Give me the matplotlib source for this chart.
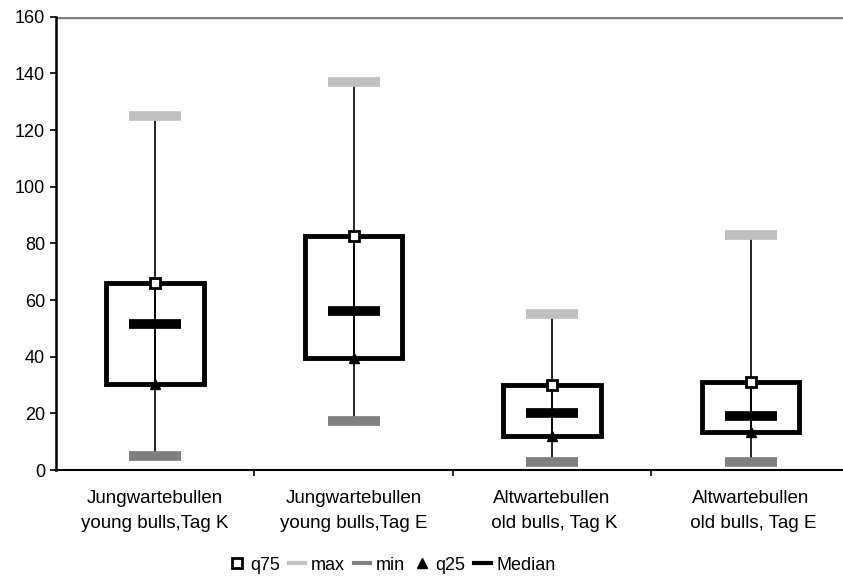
import numpy as np
import matplotlib.pyplot as plt
from matplotlib.lines import Line2D
from matplotlib.patches import Rectangle

plt.rcParams['font.family'] = ['Liberation Sans', 'DejaVu Sans']

labels = ['Jungwartebullen\nyoung bulls,Tag K', 'Jungwartebullen\nyoung bulls,Tag E',
          'Altwartebullen\n old bulls, Tag K', 'Altwartebullen\n old bulls, Tag E']
q_max = [125, 137, 55, 83]
q75 = [66, 82.5, 30, 31]
median = [51.5, 56, 20, 19]
q25 = [30.5, 39.5, 12, 13.5]
q_min = [5, 17.5, 3, 3]

x = np.arange(len(labels))

fig = plt.figure(figsize=(8.43, 5.79), dpi=100)
ax = fig.add_axes([0.066, 0.188, 0.934, 0.783])

for i in x:
    # whisker
    ax.plot([i, i], [q_min[i], q_max[i]], color='black', lw=1.2, zorder=2)
    # box
    ax.add_patch(Rectangle((i - 0.245, q25[i]), 0.49, q75[i] - q25[i],
                           facecolor='white', edgecolor='black', lw=3.5, zorder=1))
    ax.plot([i, i], [q25[i], q75[i]], color='black', lw=1.2, zorder=2)

ax.plot(x, q_max, ls='none', marker='_', ms=38, mew=7, color='#c0c0c0', zorder=3)
ax.plot(x, q_min, ls='none', marker='_', ms=38, mew=7, color='#808080', zorder=3)
ax.plot(x, median, ls='none', marker='_', ms=38, mew=7, color='black', zorder=3)
ax.plot(x, q75, ls='none', marker='s', ms=6.5, mew=2, mfc='white', mec='black', zorder=4)
ax.plot(x, q25, ls='none', marker='^', ms=6.5, color='black', zorder=4)

ax.set_ylim(0, 160)
ax.set_yticks(range(0, 161, 20))
ax.set_xlim(-0.5, 3.465)
ax.set_xticks([0.5, 1.5, 2.5], minor=False)
ax.set_xticklabels([])
ax.tick_params(axis='x', direction='out', length=4, width=1.2)
ax.tick_params(axis='y', direction='out', length=4, width=1.2, labelsize=13)
for i, lab in enumerate(labels):
    ax.text(i, -7, lab, ha='center', va='top', fontsize=13.5, linespacing=1.6)

ax.axhline(160, color='#808080', lw=2.5, zorder=0)
ax.spines['top'].set_visible(False)
ax.spines['right'].set_visible(False)
ax.spines['left'].set_linewidth(1.8)
ax.spines['bottom'].set_linewidth(1.5)

handles = [
    Line2D([], [], ls='none', marker='s', ms=7, mew=2, mfc='white', mec='black'),
    Line2D([], [], color='#c0c0c0', lw=3),
    Line2D([], [], color='#808080', lw=3),
    Line2D([], [], ls='none', marker='^', ms=7, color='black'),
    Line2D([], [], color='black', lw=3),
]
fig.legend(handles, ['q75', 'max', 'min', 'q25', 'Median'], loc='center',
           bbox_to_anchor=(0.465, 0.024), ncol=5, frameon=False, fontsize=13,
           handlelength=0.9, handletextpad=0.3, columnspacing=0.5)

plt.savefig('out.png')
